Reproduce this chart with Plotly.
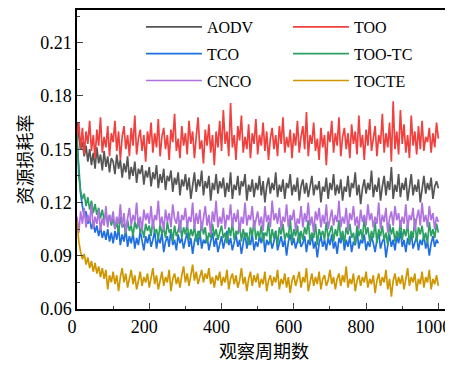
import plotly.graph_objects as go

periods = list(range(0, 1001, 5))

aodv = [0.165,0.158,0.150,0.154,0.146,0.152,0.143,0.150,0.141,0.148,0.139,0.151,0.142,0.147,0.138,0.149,0.140,0.146,0.137,0.145,
        0.143,0.136,0.147,0.139,0.144,0.134,0.142,0.137,0.146,0.133,0.140,0.135,0.143,0.131,0.139,0.136,0.141,0.130,0.138,0.134,
        0.140,0.129,0.137,0.133,0.141,0.128,0.136,0.131,0.139,0.127,0.135,0.132,0.138,0.126,0.134,0.130,0.137,0.124,0.133,0.129,
        0.136,0.127,0.134,0.122,0.131,0.137,0.126,0.133,0.129,0.138,0.124,0.132,0.128,0.135,0.121,0.131,0.127,0.136,0.125,0.132,
        0.128,0.134,0.123,0.131,0.126,0.137,0.122,0.130,0.127,0.135,0.124,0.132,0.129,0.136,0.121,0.130,0.126,0.133,0.123,0.131,
        0.127,0.135,0.124,0.132,0.120,0.129,0.134,0.125,0.131,0.127,0.137,0.123,0.130,0.126,0.133,0.122,0.131,0.128,0.136,0.124,
        0.130,0.126,0.134,0.121,0.129,0.133,0.125,0.131,0.123,0.128,0.135,0.124,0.130,0.127,0.132,0.120,0.129,0.126,0.134,0.122,
        0.131,0.127,0.136,0.124,0.130,0.125,0.133,0.121,0.129,0.126,0.135,0.123,0.131,0.128,0.137,0.124,0.130,0.119,0.128,0.133,
        0.125,0.131,0.127,0.138,0.123,0.130,0.126,0.134,0.121,0.129,0.135,0.124,0.132,0.127,0.140,0.122,0.130,0.126,0.136,0.123,
        0.131,0.127,0.134,0.121,0.129,0.136,0.124,0.130,0.126,0.133,0.120,0.128,0.135,0.125,0.131,0.127,0.134,0.122,0.129,0.132,
        0.128]

too = [0.158,0.165,0.150,0.162,0.147,0.160,0.153,0.166,0.149,0.158,0.145,0.161,0.152,0.168,0.148,0.157,0.151,0.163,0.146,0.159,
       0.154,0.166,0.149,0.160,0.144,0.157,0.163,0.150,0.158,0.146,0.162,0.152,0.169,0.147,0.156,0.161,0.149,0.158,0.143,0.160,
       0.153,0.165,0.148,0.159,0.151,0.167,0.146,0.157,0.162,0.150,0.158,0.144,0.161,0.154,0.170,0.149,0.156,0.145,0.163,0.152,
       0.159,0.147,0.166,0.153,0.160,0.145,0.157,0.168,0.150,0.155,0.142,0.161,0.152,0.164,0.148,0.158,0.141,0.160,0.151,0.166,
       0.149,0.172,0.153,0.160,0.146,0.176,0.151,0.158,0.144,0.163,0.155,0.169,0.148,0.157,0.150,0.164,0.145,0.159,0.153,0.167,
       0.147,0.158,0.152,0.165,0.149,0.160,0.144,0.156,0.162,0.150,0.158,0.146,0.163,0.153,0.168,0.148,0.157,0.151,0.161,0.145,
       0.159,0.152,0.166,0.148,0.157,0.163,0.150,0.171,0.146,0.158,0.153,0.165,0.149,0.156,0.144,0.162,0.151,0.158,0.141,0.160,
       0.154,0.166,0.148,0.159,0.152,0.168,0.146,0.157,0.162,0.150,0.159,0.145,0.164,0.153,0.160,0.147,0.169,0.151,0.158,0.144,
       0.161,0.152,0.167,0.149,0.156,0.163,0.146,0.158,0.153,0.170,0.148,0.159,0.151,0.165,0.143,0.177,0.150,0.160,0.147,0.172,
       0.153,0.164,0.148,0.158,0.145,0.169,0.152,0.160,0.147,0.163,0.150,0.166,0.149,0.157,0.154,0.162,0.148,0.159,0.151,0.165,
       0.156]

tco = [0.155,0.140,0.125,0.118,0.112,0.115,0.108,0.111,0.105,0.109,0.103,0.107,0.101,0.106,0.100,0.104,0.099,0.105,0.098,0.103,
       0.097,0.104,0.099,0.106,0.096,0.102,0.098,0.105,0.095,0.101,0.097,0.103,0.094,0.100,0.096,0.104,0.098,0.093,0.101,0.097,
       0.102,0.095,0.099,0.104,0.094,0.100,0.097,0.103,0.092,0.098,0.101,0.095,0.105,0.096,0.099,0.093,0.102,0.097,0.100,0.094,
       0.099,0.103,0.095,0.100,0.091,0.098,0.102,0.096,0.104,0.094,0.099,0.097,0.101,0.093,0.098,0.103,0.095,0.100,0.092,0.097,
       0.101,0.094,0.099,0.104,0.096,0.100,0.093,0.098,0.102,0.095,0.099,0.091,0.097,0.103,0.094,0.100,0.096,0.102,0.093,0.098,
       0.095,0.101,0.097,0.103,0.092,0.099,0.096,0.100,0.094,0.098,0.104,0.093,0.097,0.101,0.095,0.099,0.090,0.098,0.102,0.096,
       0.100,0.094,0.098,0.103,0.095,0.097,0.101,0.092,0.099,0.096,0.102,0.094,0.098,0.089,0.097,0.101,0.095,0.099,0.093,0.100,
       0.096,0.102,0.094,0.098,0.091,0.100,0.097,0.103,0.093,0.099,0.095,0.101,0.092,0.098,0.096,0.104,0.094,0.099,0.097,0.102,
       0.093,0.098,0.095,0.101,0.097,0.092,0.099,0.103,0.094,0.098,0.100,0.089,0.096,0.102,0.095,0.099,0.093,0.101,0.097,0.104,
       0.095,0.099,0.092,0.100,0.096,0.103,0.094,0.098,0.101,0.093,0.099,0.096,0.102,0.094,0.098,0.090,0.097,0.101,0.095,0.099,
       0.097]

too_tc = [0.158,0.135,0.126,0.122,0.125,0.118,0.123,0.116,0.121,0.114,0.119,0.113,0.117,0.111,0.116,0.110,0.114,0.108,0.113,0.107,
          0.111,0.105,0.109,0.103,0.112,0.106,0.108,0.102,0.110,0.104,0.107,0.101,0.109,0.105,0.111,0.103,0.106,0.100,0.108,0.104,
          0.107,0.101,0.110,0.103,0.105,0.099,0.108,0.102,0.106,0.100,0.109,0.103,0.105,0.098,0.107,0.101,0.104,0.110,0.100,0.106,
          0.102,0.108,0.099,0.105,0.101,0.107,0.098,0.104,0.100,0.109,0.102,0.106,0.097,0.103,0.100,0.108,0.101,0.105,0.099,0.104,
          0.107,0.100,0.103,0.097,0.106,0.101,0.109,0.099,0.104,0.102,0.108,0.098,0.105,0.100,0.103,0.096,0.106,0.101,0.110,0.099,
          0.104,0.100,0.107,0.098,0.103,0.101,0.109,0.097,0.105,0.100,0.104,0.096,0.106,0.102,0.108,0.099,0.103,0.100,0.111,0.098,
          0.105,0.101,0.107,0.097,0.104,0.099,0.106,0.102,0.110,0.098,0.103,0.100,0.108,0.096,0.105,0.101,0.104,0.099,0.109,0.100,
          0.103,0.107,0.098,0.105,0.101,0.110,0.099,0.104,0.097,0.106,0.102,0.108,0.100,0.103,0.096,0.107,0.101,0.105,0.099,0.112,
          0.102,0.106,0.098,0.104,0.100,0.109,0.097,0.105,0.101,0.107,0.099,0.103,0.096,0.108,0.102,0.106,0.098,0.104,0.100,0.110,
          0.099,0.105,0.101,0.108,0.097,0.104,0.100,0.111,0.098,0.106,0.102,0.107,0.099,0.103,0.097,0.109,0.101,0.105,0.100,0.108,
          0.103]

cnco = [0.112,0.103,0.115,0.108,0.117,0.106,0.113,0.109,0.119,0.105,0.112,0.108,0.116,0.104,0.111,0.107,0.118,0.106,0.113,0.109,
        0.115,0.105,0.112,0.108,0.119,0.106,0.114,0.103,0.111,0.117,0.107,0.113,0.109,0.120,0.106,0.112,0.104,0.116,0.110,0.114,
        0.108,0.118,0.105,0.113,0.110,0.121,0.107,0.112,0.104,0.116,0.109,0.114,0.106,0.119,0.111,0.108,0.115,0.103,0.113,0.110,
        0.117,0.106,0.112,0.109,0.120,0.105,0.114,0.108,0.116,0.104,0.111,0.118,0.107,0.113,0.102,0.115,0.109,0.121,0.106,0.112,
        0.108,0.117,0.105,0.113,0.110,0.119,0.106,0.114,0.109,0.116,0.103,0.112,0.108,0.120,0.107,0.113,0.110,0.118,0.105,0.111,
        0.115,0.107,0.112,0.104,0.118,0.109,0.113,0.106,0.121,0.110,0.114,0.108,0.117,0.105,0.112,0.109,0.119,0.106,0.113,0.110,
        0.116,0.104,0.111,0.108,0.118,0.106,0.114,0.109,0.120,0.107,0.112,0.103,0.115,0.110,0.117,0.106,0.113,0.108,0.119,0.105,
        0.111,0.116,0.107,0.113,0.109,0.121,0.106,0.112,0.108,0.117,0.104,0.114,0.110,0.118,0.107,0.112,0.105,0.116,0.109,0.113,
        0.107,0.119,0.110,0.114,0.106,0.112,0.108,0.120,0.105,0.113,0.109,0.117,0.103,0.111,0.115,0.107,0.118,0.110,0.114,0.106,
        0.112,0.108,0.119,0.105,0.113,0.110,0.117,0.104,0.111,0.116,0.107,0.120,0.109,0.113,0.106,0.118,0.110,0.114,0.105,0.112,
        0.109]

tocte = [0.110,0.098,0.092,0.088,0.091,0.085,0.089,0.083,0.087,0.081,0.086,0.080,0.084,0.078,0.083,0.077,0.082,0.071,0.079,0.075,
         0.081,0.074,0.079,0.070,0.078,0.083,0.075,0.080,0.072,0.077,0.082,0.074,0.079,0.071,0.076,0.081,0.073,0.078,0.075,0.080,
         0.072,0.077,0.083,0.074,0.079,0.071,0.076,0.081,0.073,0.078,0.075,0.082,0.070,0.077,0.080,0.074,0.078,0.072,0.079,0.084,
         0.075,0.080,0.073,0.078,0.085,0.076,0.081,0.074,0.079,0.082,0.075,0.080,0.077,0.083,0.074,0.078,0.072,0.079,0.076,0.081,
         0.073,0.078,0.075,0.082,0.071,0.077,0.080,0.074,0.079,0.072,0.076,0.083,0.074,0.078,0.070,0.077,0.081,0.073,0.079,0.075,
         0.080,0.072,0.077,0.074,0.081,0.070,0.076,0.079,0.073,0.078,0.075,0.082,0.071,0.077,0.074,0.080,0.072,0.078,0.069,0.076,
         0.079,0.073,0.077,0.081,0.072,0.078,0.075,0.083,0.070,0.076,0.080,0.073,0.078,0.074,0.081,0.071,0.077,0.079,0.073,0.076,
         0.082,0.074,0.078,0.071,0.077,0.080,0.073,0.079,0.075,0.084,0.072,0.077,0.074,0.080,0.070,0.076,0.079,0.073,0.078,0.075,
         0.081,0.072,0.077,0.074,0.079,0.069,0.076,0.080,0.073,0.078,0.075,0.082,0.071,0.077,0.067,0.076,0.080,0.073,0.078,0.074,
         0.079,0.071,0.076,0.083,0.073,0.078,0.075,0.080,0.070,0.077,0.074,0.081,0.072,0.078,0.075,0.082,0.071,0.077,0.074,0.079,
         0.073]

y_ticks = [0.06, 0.09, 0.12, 0.15, 0.18, 0.21]
x_ticks = [0, 200, 400, 600, 800, 1000]

series = [
    ("AODV", aodv, "#555555", "legend"),
    ("TOO", too, "#f0413f", "legend2"),
    ("TCO", tco, "#1f6fe0", "legend"),
    ("TOO-TC", too_tc, "#2ca062", "legend2"),
    ("CNCO", cnco, "#b072e0", "legend"),
    ("TOCTE", tocte, "#d09600", "legend2"),
]

SERIF = "Liberation Serif, Times New Roman, serif"
CJK = "Liberation Serif, Noto Sans CJK SC"

fig = go.Figure()
for name, vals, color, lg in series:
    fig.add_trace(go.Scatter(x=periods, y=vals, mode="lines", name=name,
                             line=dict(color=color, width=1.7),
                             legend=lg, legendgroup=name))

legend_common = dict(font=dict(family=SERIF, size=16, color="black"),
                     bgcolor="rgba(0,0,0,0)", itemwidth=56, tracegroupgap=3,
                     xanchor="left", yanchor="top", traceorder="grouped")

# page body has an 8px default margin, so the figure is sized to the remaining area
fig.update_layout(
    width=445, height=358,
    margin=dict(l=69, r=2, t=0, b=57),
    paper_bgcolor="white", plot_bgcolor="white",
    font=dict(family=SERIF, size=18, color="black"),
    legend=dict(x=0.171, y=1.0, **legend_common),
    legend2=dict(x=0.564, y=1.0, **legend_common),
    xaxis=dict(range=[0, 1035], tickvals=x_ticks, ticks="inside", ticklen=6,
               tickwidth=1.2, showline=True, linecolor="black", linewidth=1.5,
               mirror=True, showgrid=False, zeroline=False,
               ticklabelshift=-5, ticklabelstandoff=1,
               minor=dict(dtick=100, ticks="inside", ticklen=3, tickwidth=1),
               tickfont=dict(family=SERIF, size=18, color="black"),
               title=dict(text="观察周期数", font=dict(family=CJK, size=18), standoff=9)),
    yaxis=dict(range=[0.06, 0.2284], tickvals=y_ticks, tickformat=".2f",
               ticks="inside", ticklen=6, tickwidth=1.2, showline=True,
               linecolor="black", linewidth=1.5, mirror=True, showgrid=False,
               zeroline=False,
               minor=dict(dtick=0.015, tick0=0.06, ticks="inside", ticklen=3, tickwidth=1),
               tickfont=dict(family=SERIF, size=18, color="black"),
               title=dict(text="资源损耗率", font=dict(family=CJK, size=18), standoff=3)),
)

fig.write_html("out.html")
